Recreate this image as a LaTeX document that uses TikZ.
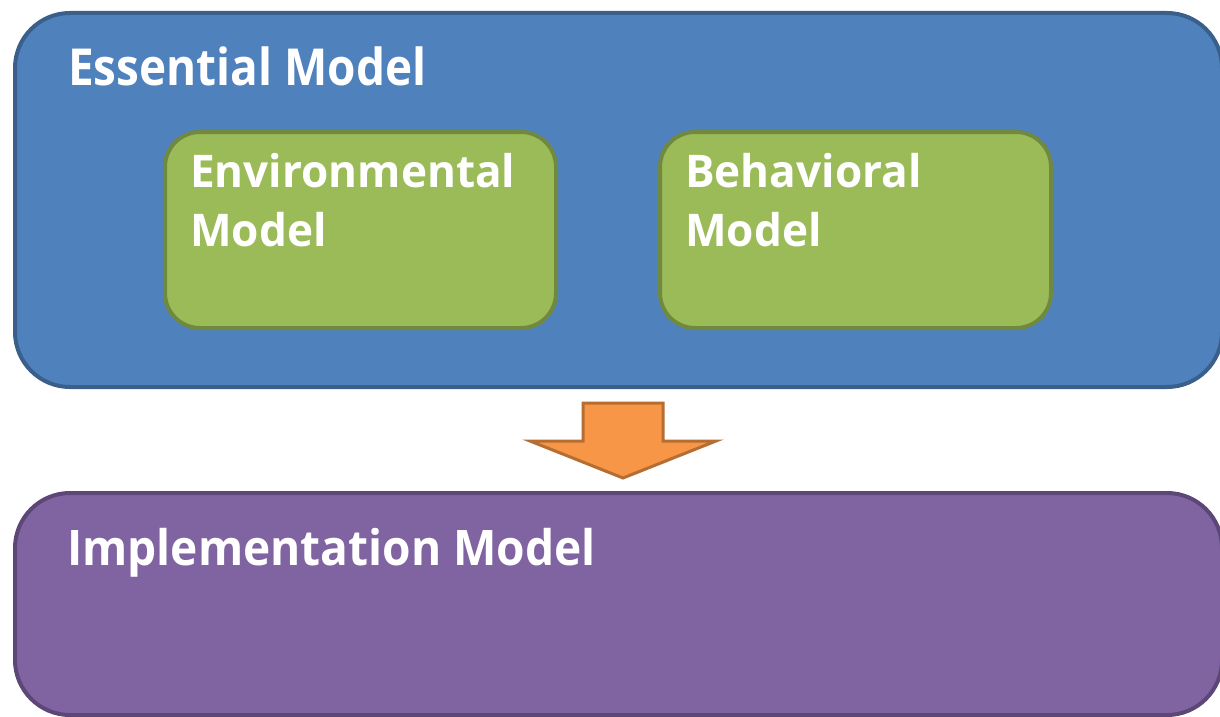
\documentclass[tikz,border=0pt]{standalone}
\usepackage{fontspec}
\setmainfont{Open Sans}
\newfontfamily\essfont{Open Sans}[FakeStretch = 0.9]
\newfontfamily\impfont{Open Sans}[FakeStretch = 0.94]
\newfontfamily\subfont{Open Sans}[FakeStretch = 0.98]
\usepackage{tikz}
\usetikzlibrary{positioning}
\definecolor{essfill}{HTML}{4F81BD}
\definecolor{essline}{HTML}{3A5F8B}
\definecolor{subfill}{HTML}{9BBB59}
\definecolor{subline}{HTML}{71893F}
\definecolor{impfill}{HTML}{8064A2}
\definecolor{impline}{HTML}{5C4776}
\definecolor{arrfill}{HTML}{F79646}
\definecolor{arrline}{HTML}{B66D31}
\tikzset{bigbox/.style = {draw, line width = 4, rounded corners = 55, inner sep = 0}}
\tikzset{subbox/.style = {draw = subline, fill = subfill, line width = 4,
                          rounded corners = 35, inner sep = 0,
                          minimum width = 391, minimum height = 196}}
\tikzset{label/.style = {anchor = base west, inner sep = 0, text = white}}
\tikzset{sublabel/.style = {label, font = \subfont\fontsize{45}{54}\selectfont\bfseries}}

\begin{document}
\begin{tikzpicture}[x = 1pt, y = -1pt]
      \useasboundingbox (0, 0) rectangle (1220, 717);
      \clip (0, 0) rectangle (1220, 717);

      \node (ess) at (618.5, 200) [bigbox, draw = essline, fill = essfill,
                                   minimum width = 1207, minimum height = 374] {};
      \node (essl) at (68, 85) [label, font = \essfont\fontsize{51}{60}\selectfont\bfseries]
            {Essential Model};

      \node (env) at (360.5, 230) [subbox] {};
      \node (envl) at (190, 187) [sublabel] {Environmental};
      \node (envm) at (190, 246) [sublabel] {Model};

      \node (beh) at (855.5, 230) [subbox] {};
      \node (behl) at (685, 187) [sublabel] {Behavioral};
      \node (behm) at (685, 246) [sublabel] {Model};

      \node (imp) at (618.5, 604) [bigbox, draw = impline, fill = impfill,
                                   minimum width = 1207, minimum height = 222] {};
      \node (impl) at (67, 565) [label, font = \impfont\fontsize{49}{58}\selectfont\bfseries]
            {Implementation Model};

      \coordinate (tip) at (623, 478);
      \draw [draw = arrline, fill = arrfill, line width = 3, line join = miter]
            (tip) -- ++(-93, -37) -- ++(53, 0) -- ++(0, -38) -- ++(80, 0)
            -- ++(0, 38) -- ++(53, 0) -- cycle;
    \end{tikzpicture}
\end{document}
